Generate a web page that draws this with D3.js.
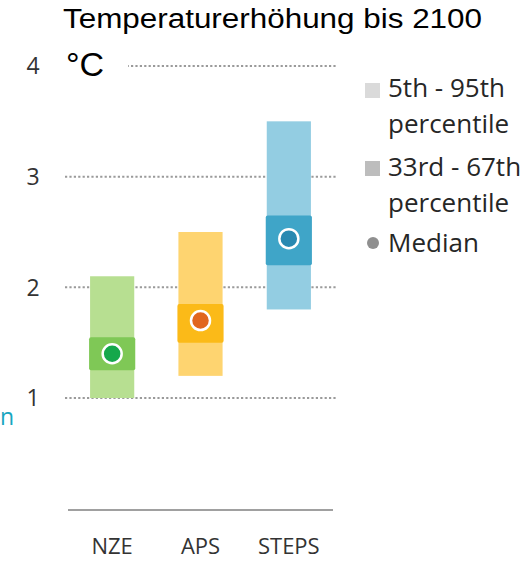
<!DOCTYPE html>
<html><head><meta charset="utf-8">
<script src="https://cdn.jsdelivr.net/npm/d3@7"></script>
<style>body{margin:0;background:#fff}svg{display:block}</style>
</head><body>
<svg id="chart" width="531" height="561"></svg>
<script>
const categories = ["NZE", "APS", "STEPS"];
const p5  = [1.0, 1.2, 1.8];
const p95 = [2.1, 2.5, 3.5];
const p33 = [1.25, 1.5, 2.2];
const p67 = [1.55, 1.85, 2.65];
const median = [1.4, 1.7, 2.44];
const yTicks = [1, 2, 3, 4];
const titleText = "Temperaturerhöhung bis 2100";
const unitText = "°C";
const legendLines = ["5th - 95th", "percentile", "33rd - 67th", "percentile", "Median"];

const outerColors = ["#b7df91", "#fed470", "#93cde2"];
const innerColors = ["#7fc856", "#fbba18", "#3fa5c8"];
const dotColors   = ["#15a84b", "#e1661d", "#2889b1"];

const svg = d3.select("#chart");
const x = d3.scaleBand().domain(categories).range([68, 333]).paddingInner(0.5).paddingOuter(0.25);
const y = d3.scaleLinear().domain([1, 4]).range([398, 66]);

// gridlines
svg.append("g").selectAll("line").data(yTicks).join("line")
  .attr("x1", 65).attr("x2", 336)
  .attr("y1", d => y(d)).attr("y2", d => y(d))
  .attr("stroke", "#9a9a9a").attr("stroke-width", 2).attr("stroke-dasharray", "2.2,2.2");

// tick labels
svg.append("g").selectAll("text").data(yTicks).join("text")
  .attr("x", 33).attr("y", d => y(d)).attr("dy", "0.36em")
  .attr("text-anchor", "middle")
  .attr("font-family", "Open Sans").attr("font-size", 23).attr("fill", "#333")
  .text(d => d);

// unit label with white background
svg.append("rect").attr("x", 62).attr("y", 48).attr("width", 66).attr("height", 32).attr("fill", "#fff");
svg.append("text").attr("x", 66).attr("y", 76)
  .attr("font-family", "Liberation Sans").attr("font-size", 34).attr("fill", "#000")
  .text(unitText);

// title
svg.append("text").attr("x", 63).attr("y", 28)
  .attr("font-family", "Liberation Sans").attr("font-size", 27).attr("fill", "#000")
  .attr("textLength", 419).attr("lengthAdjust", "spacingAndGlyphs")
  .text(titleText);

const idx = d3.range(categories.length);
// outer bars
svg.append("g").selectAll("rect").data(idx).join("rect")
  .attr("x", i => x(categories[i])).attr("width", x.bandwidth())
  .attr("y", i => y(p95[i])).attr("height", i => y(p5[i]) - y(p95[i]))
  .attr("fill", i => outerColors[i]);
// inner bars
svg.append("g").selectAll("rect").data(idx).join("rect")
  .attr("x", i => x(categories[i]) - 1).attr("width", x.bandwidth() + 2)
  .attr("y", i => y(p67[i])).attr("height", i => y(p33[i]) - y(p67[i]))
  .attr("rx", 2)
  .attr("fill", i => innerColors[i]);
// medians
svg.append("g").selectAll("circle").data(idx).join("circle")
  .attr("cx", i => x(categories[i]) + x.bandwidth() / 2).attr("cy", i => y(median[i]))
  .attr("r", 9.5).attr("fill", i => dotColors[i])
  .attr("stroke", "#fff").attr("stroke-width", 2.5);

// baseline
svg.append("line").attr("x1", 68).attr("x2", 333).attr("y1", 510).attr("y2", 510)
  .attr("stroke", "#808080").attr("stroke-width", 1.5);

// category labels
svg.append("g").selectAll("text").data(categories).join("text")
  .attr("x", d => x(d) + x.bandwidth() / 2).attr("y", 554)
  .attr("text-anchor", "middle")
  .attr("font-family", "Open Sans").attr("font-size", 22).attr("fill", "#333")
  .text(d => d);

// legend
const legendY = [97, 133, 176, 212, 252];
svg.append("g").selectAll("text").data(legendLines).join("text")
  .attr("x", 388).attr("y", (d, i) => legendY[i])
  .attr("font-family", "Open Sans").attr("font-size", 26).attr("fill", "#262626")
  .text(d => d);
svg.append("rect").attr("x", 365).attr("y", 83).attr("width", 15).attr("height", 15).attr("fill", "#dadada");
svg.append("rect").attr("x", 365).attr("y", 161).attr("width", 15).attr("height", 15).attr("fill", "#bdbdbd");
svg.append("circle").attr("cx", 373).attr("cy", 243).attr("r", 6).attr("fill", "#8f8f8f");

// text fragment on left edge
svg.append("text").attr("x", 0).attr("y", 425).attr("text-anchor", "start")
  .attr("font-family", "Open Sans").attr("font-size", 23).attr("fill", "#19a6c0")
  .text("n");
</script>
</body></html>
